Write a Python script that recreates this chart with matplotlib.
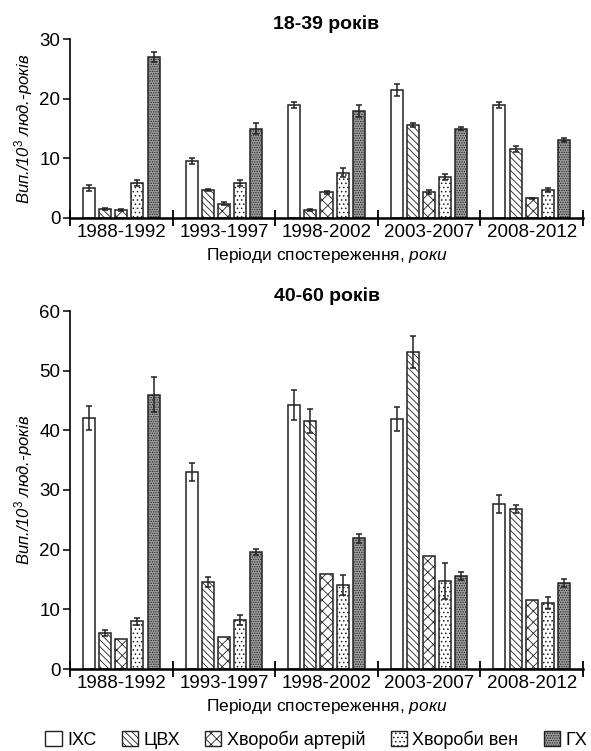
import numpy as np
import matplotlib.pyplot as plt
from matplotlib.patches import Patch

plt.rcParams['font.family'] = ['Liberation Sans', 'DejaVu Sans']
plt.rcParams['hatch.linewidth'] = 0.6
plt.rcParams['mathtext.fontset'] = 'custom'
plt.rcParams['mathtext.rm'] = 'Liberation Sans'
plt.rcParams['mathtext.it'] = 'Liberation Sans:italic'

periods = ['1988-1992', '1993-1997', '1998-2002', '2003-2007', '2008-2012']
series = ['ІХС', 'ЦВХ', 'Хвороби артерій', 'Хвороби вен', 'ГХ']

# 18-39 років
young_vals = [
    [5.0, 9.5, 19.0, 21.5, 18.9],   # ІХС
    [1.5, 4.7, 1.3, 15.6, 11.5],    # ЦВХ
    [1.3, 2.4, 4.3, 4.4, 3.3],      # артерії
    [5.8, 5.8, 7.6, 6.8, 4.7],      # вени
    [27.0, 15.0, 18.0, 15.0, 13.1], # ГХ
]
young_err = [
    [0.5, 0.5, 0.5, 1.0, 0.5],
    [0.2, 0.2, 0.2, 0.4, 0.5],
    [0.2, 0.2, 0.2, 0.3, 0.1],
    [0.5, 0.5, 0.7, 0.5, 0.3],
    [0.9, 1.0, 1.0, 0.3, 0.3],
]

# 40-60 років
old_vals = [
    [42.0, 33.0, 44.2, 41.9, 27.7],
    [6.0, 14.6, 41.6, 53.1, 26.8],
    [5.0, 5.4, 15.9, 18.9, 11.5],
    [8.0, 8.2, 14.1, 14.8, 11.1],
    [46.0, 19.6, 21.9, 15.6, 14.4],
]
old_err = [
    [2.0, 1.5, 2.5, 2.0, 1.5],
    [0.5, 0.8, 2.0, 2.7, 0.7],
    [0.0, 0.0, 0.0, 0.0, 0.0],
    [0.6, 0.8, 1.7, 3.0, 1.0],
    [3.0, 0.5, 0.8, 0.7, 0.7],
]

faces = ['white', 'white', 'white', 'white', '#9c9c9c']
hatches = [None, '\\\\\\\\\\', 'xxx', '....', '.......']

fig = plt.figure(figsize=(5.91, 7.51), dpi=100)
ax1 = fig.add_axes([70/591, 1-218/751, 513/591, 179/751])
ax2 = fig.add_axes([70/591, 1-669/751, 513/591, 358/751])

x = np.arange(len(periods))
step = 0.157
w = 0.117


def draw(ax, vals, errs, ymax, title):
    for i in range(len(series)):
        e = np.array(errs[i])
        ax.bar(x + (i - 2) * step, vals[i], w, color=faces[i], edgecolor='#222222',
               hatch=hatches[i], linewidth=1.1,
               yerr=np.where(e > 0, e, np.nan), capsize=2.5,
               error_kw=dict(ecolor='#222222', elinewidth=1.1, capthick=1.1))
    ax.set_xlim(-0.5, 4.5)
    ax.set_ylim(0, ymax)
    ax.set_yticks(np.arange(0, ymax + 1, 10))
    ax.set_xticks(np.arange(-0.5, 5, 1))
    ax.set_xticklabels([])
    ax.set_xticks(x, minor=True)
    ax.set_xticklabels(periods, minor=True, fontsize=13.5)
    ax.tick_params(axis='x', which='major', direction='inout', length=12, width=1.3)
    ax.tick_params(axis='x', which='minor', length=0, pad=4)
    ax.tick_params(axis='y', labelsize=13.5, length=5, width=1.1, pad=2)
    for s in ['top', 'right']:
        ax.spines[s].set_visible(False)
    ax.spines['left'].set_linewidth(1.2)
    ax.spines['bottom'].set_linewidth(1.8)
    ax.set_title(title, fontsize=14, fontweight='bold', pad=7)
    ax.set_ylabel('Вип./10$^{3}$ люд.-років', fontsize=12, style='italic', labelpad=3)
    ax.set_xlabel('Періоди спостереження, $\\mathit{роки}$', fontsize=12.5, labelpad=4)


draw(ax1, young_vals, young_err, 30, '18-39 років')
draw(ax2, old_vals, old_err, 60, '40-60 років')

handles = [Patch(facecolor=faces[i], edgecolor='#222222', hatch=hatches[i], linewidth=1.0)
           for i in range(len(series))]
fig.legend(handles, series, loc='center', bbox_to_anchor=(0.535, 1 - 740/751), ncol=5,
           frameon=False, fontsize=13, handlelength=0.9, handleheight=0.9,
           handletextpad=0.3, columnspacing=1.4, borderaxespad=0)

fig.savefig('out.png', dpi=100)
